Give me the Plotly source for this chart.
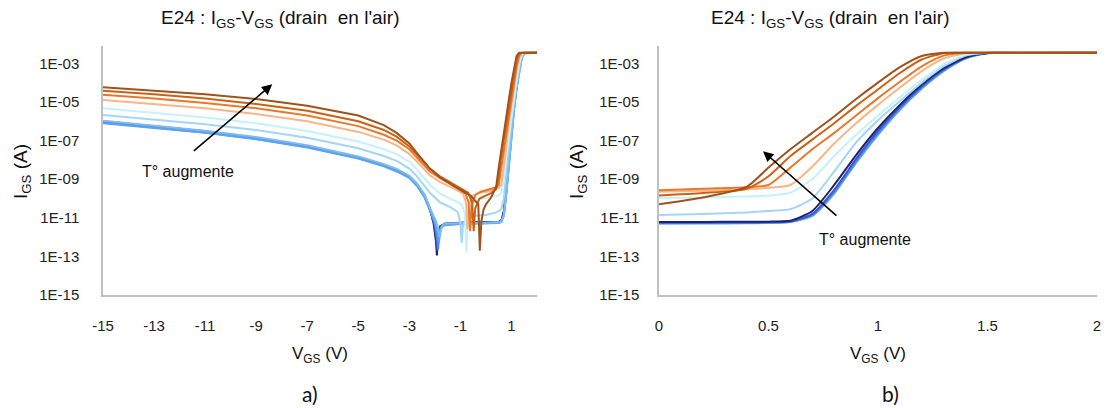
import plotly.graph_objects as go

# ---------------- data (log10 of I_GS in A) ----------------
# Right panel (b): common V_GS grid
VR = [0, 0.2, 0.4, 0.5, 0.6, 0.7, 0.8, 0.9, 1.0, 1.1, 1.2, 1.3, 1.4, 1.5, 2.0]
R1 = [-11.22, -11.22, -11.2, -11.2, -11.15, -10.65, -9.3, -7.75, -6.35, -5.15, -4.1, -3.25, -2.68, -2.46, -2.45]
R2 = [-11.25, -11.24, -11.23, -11.22, -11.18, -10.8, -9.55, -7.95, -6.5, -5.25, -4.18, -3.3, -2.7, -2.46, -2.45]
R3 = [-11.28, -11.27, -11.26, -11.25, -11.2, -10.85, -9.65, -8.05, -6.6, -5.33, -4.25, -3.35, -2.72, -2.47, -2.45]
R4 = [-11.3, -11.3, -11.28, -11.27, -11.22, -10.9, -9.75, -8.15, -6.7, -5.4, -4.3, -3.4, -2.75, -2.48, -2.45]
R5 = [-11.26, -11.25, -11.23, -11.22, -11.19, -10.88, -9.7, -8.1, -6.65, -5.36, -4.27, -3.37, -2.73, -2.47, -2.45]
R6 = [-10.86, -10.8, -10.72, -10.65, -10.55, -10.0, -8.6, -7.1, -5.95, -4.95, -4.0, -3.15, -2.6, -2.45, -2.45]
R7 = [-9.98, -9.95, -9.9, -9.85, -9.7, -9.0, -7.8, -6.7, -5.7, -4.75, -3.85, -3.05, -2.55, -2.45, -2.45]
R8 = [-9.65, -9.6, -9.52, -9.45, -9.3, -8.35, -7.15, -6.1, -5.15, -4.25, -3.4, -2.75, -2.48, -2.45, -2.45]
R9 = [-9.57, -9.5, -9.42, -9.3, -8.4, -7.45, -6.6, -5.7, -4.8, -3.95, -3.15, -2.6, -2.45, -2.45, -2.45]
R10 = [-9.84, -9.72, -9.5, -8.85, -7.8, -6.95, -6.1, -5.2, -4.35, -3.5, -2.8, -2.47, -2.45, -2.45, -2.45]
R11 = [-10.3, -9.95, -9.4, -8.4, -7.45, -6.6, -5.75, -4.85, -4.0, -3.2, -2.62, -2.45, -2.45, -2.45, -2.45]

# Left panel (a): negative V_GS common grid
VL = [-15, -13, -11, -9, -7, -5, -4, -3.5, -3, -2.7, -2.4, -2.2]
L1 = [-6.0, -6.25, -6.52, -6.85, -7.28, -7.85, -8.25, -8.5, -8.85, -9.25, -9.85, -10.5]
L2 = [-6.03, -6.28, -6.55, -6.88, -7.31, -7.88, -8.28, -8.53, -8.88, -9.3, -9.9, -10.55]
L3 = [-6.06, -6.31, -6.58, -6.9, -7.33, -7.9, -8.3, -8.56, -8.9, -9.33, -9.92, -10.58]
L4 = [-6.1, -6.34, -6.6, -6.93, -7.36, -7.93, -8.33, -8.6, -8.93, -9.35, -9.95, -10.6]
L5 = [-5.97, -6.22, -6.49, -6.82, -7.24, -7.82, -8.22, -8.47, -8.82, -9.22, -9.82, -10.47]
L6 = [-5.67, -5.9, -6.15, -6.45, -6.85, -7.4, -7.8, -8.05, -8.45, -8.85, -9.35, -9.7]
L7 = [-5.33, -5.55, -5.8, -6.1, -6.5, -7.05, -7.45, -7.7, -8.1, -8.5, -9.0, -9.3]
L8 = [-4.9, -5.1, -5.33, -5.62, -6.0, -6.55, -6.95, -7.25, -7.7, -8.1, -8.55, -8.8]
L9 = [-4.63, -4.82, -5.05, -5.33, -5.7, -6.25, -6.7, -7.0, -7.45, -7.9, -8.35, -8.6]
L10 = [-4.42, -4.6, -4.82, -5.1, -5.45, -6.0, -6.45, -6.8, -7.3, -7.75, -8.2, -8.45]
L11 = [-4.24, -4.42, -4.6, -4.85, -5.2, -5.7, -6.2, -6.6, -7.15, -7.65, -8.15, -8.45]

# Left panel: dip region (sign change of I_GS) for each curve
T1_V = [-2.05, -1.96, -1.92, -1.88, -1.8, -1.6, -1.0, -0.4]
T1_L = [-11.3, -12.2, -12.95, -11.8, -11.45, -11.3, -11.25, -11.22]
T2_V = [-2.03, -1.94, -1.9, -1.86, -1.78, -1.6, -1.0, -0.4]
T2_L = [-11.3, -12.1, -12.7, -11.8, -11.45, -11.32, -11.27, -11.25]
T3_V = [-2.0, -1.91, -1.87, -1.83, -1.75, -1.6, -1.0, -0.4]
T3_L = [-11.3, -12.0, -12.6, -11.8, -11.45, -11.35, -11.3, -11.28]
T4_V = [-1.98, -1.88, -1.84, -1.8, -1.72, -1.6, -1.0, -0.4]
T4_L = [-11.3, -11.9, -12.3, -11.7, -11.45, -11.38, -11.32, -11.3]
T5_V = [-1.95, -1.85, -1.8, -1.76, -1.7, -1.6, -1.0, -0.4]
T5_L = [-11.2, -11.7, -12.0, -11.6, -11.4, -11.3, -11.27, -11.26]
T6_V = [-1.8, -1.4, -1.1, -1.0, -0.95, -0.9, -0.75, -0.4]
T6_L = [-10.2, -10.45, -10.7, -11.3, -12.3, -11.4, -11.0, -10.9]
T7_V = [-1.8, -1.3, -0.95, -0.82, -0.76, -0.7, -0.55, -0.3]
T7_L = [-9.75, -10.05, -10.3, -10.8, -12.8, -10.9, -10.3, -10.05]
T8_V = [-1.8, -1.3, -0.9, -0.78, -0.72, -0.66, -0.5, -0.25]
T8_L = [-9.15, -9.45, -9.75, -10.2, -11.6, -10.3, -9.85, -9.7]
T9_V = [-1.8, -1.2, -0.8, -0.68, -0.62, -0.56, -0.4, -0.2]
T9_L = [-8.95, -9.4, -9.75, -10.2, -11.7, -10.3, -9.8, -9.65]
T10_V = [-1.8, -1.2, -0.7, -0.54, -0.48, -0.42, -0.25, -0.1]
T10_L = [-8.85, -9.3, -9.7, -10.2, -11.7, -10.5, -10.0, -9.9]
T11_V = [-1.8, -1.2, -0.6, -0.3, -0.24, -0.18, -0.1, -0.05]
T11_L = [-8.9, -9.4, -9.85, -10.3, -12.7, -11.2, -10.6, -10.4]

COLORS = ["#1c2470", "#3f56cf", "#4b86e6", "#5fa2ef", "#7bbcf3", "#a3d6f6",
          "#c5f1fb", "#f6b688", "#e9782a", "#cc6115", "#a0521b"]

XT_A = [-15, -13, -11, -9, -7, -5, -3, -1, 1]
XT_A_TXT = ["-15", "-13", "-11", "-9", "-7", "-5", "-3", "-1", "1"]
XT_B = [0, 0.5, 1, 1.5, 2]
XT_B_TXT = ["0", "0.5", "1", "1.5", "2"]
YT_EXP = [-15, -13, -11, -9, -7, -5, -3]
YT_TXT = ["1E-15", "1E-13", "1E-11", "1E-09", "1E-07", "1E-05", "1E-03"]

TITLE = "E24 : I<sub>GS</sub>-V<sub>GS</sub> (drain  en l'air)"
XLAB = "V<sub>GS</sub> (V)"
YLAB = "I<sub>GS</sub> (A)"
NOTE = "T° augmente"

RIGHT = [R1, R2, R3, R4, R5, R6, R7, R8, R9, R10, R11]
LEFT = [L1, L2, L3, L4, L5, L6, L7, L8, L9, L10, L11]
TAIL_V = [T1_V, T2_V, T3_V, T4_V, T5_V, T6_V, T7_V, T8_V, T9_V, T10_V, T11_V]
TAIL_L = [T1_L, T2_L, T3_L, T4_L, T5_L, T6_L, T7_L, T8_L, T9_L, T10_L, T11_L]

# ---------------- figure ----------------
W, H = 1108, 408
fig = go.Figure()
for i in range(11):
    xs = VL + TAIL_V[i] + VR
    ys = [10 ** v for v in LEFT[i] + TAIL_L[i] + RIGHT[i]]
    fig.add_trace(go.Scatter(x=xs, y=ys, mode="lines", xaxis="x", yaxis="y",
                             line=dict(color=COLORS[i], width=2), showlegend=False,
                             hoverinfo="skip"))
for i in [4, 3, 2, 1, 0, 5, 6, 7, 8, 9, 10]:
    fig.add_trace(go.Scatter(x=VR, y=[10 ** v for v in RIGHT[i]], mode="lines",
                             xaxis="x2", yaxis="y2",
                             line=dict(color=COLORS[i], width=2, shape="spline", smoothing=0.6),
                             showlegend=False, hoverinfo="skip"))

def px(x):
    return x / W

def py(y):
    return 1 - y / H

tickfont = dict(family="Liberation Sans, Arial", size=15, color="#222")
axis_common = dict(showgrid=False, zeroline=False, showline=True, linecolor="#c0c0c0",
                   linewidth=1.5, ticks="outside", tickcolor="rgba(0,0,0,0)",
                   tickfont=tickfont, automargin=False)
yvals = [10 ** e for e in YT_EXP]
ydom = [py(295), py(46)]

fig.update_layout(
    width=W, height=H, margin=dict(l=0, r=0, t=0, b=0, autoexpand=False),
    paper_bgcolor="white", plot_bgcolor="white",
    xaxis=dict(domain=[px(103), px(537)], range=[-15, 2], tickvals=XT_A,
               ticktext=XT_A_TXT, ticklen=16, anchor="y", **axis_common),
    yaxis=dict(domain=ydom, type="log", range=[-15, -2.1], tickvals=yvals,
               ticktext=YT_TXT, ticklen=19, anchor="x", **axis_common),
    xaxis2=dict(domain=[px(659), px(1097)], range=[0, 2], tickvals=XT_B,
                ticktext=XT_B_TXT, ticklen=16, anchor="y2", **axis_common),
    yaxis2=dict(domain=ydom, type="log", range=[-15, -2.1], tickvals=yvals,
                ticktext=YT_TXT, ticklen=15, anchor="x2", **axis_common),
)

txtfont = dict(family="Liberation Sans, Arial", color="#111")
ann = [
    dict(text=TITLE, x=px(280), y=py(19), font=dict(size=19, **txtfont)),
    dict(text=TITLE, x=px(830), y=py(19), font=dict(size=19, **txtfont)),
    dict(text=XLAB, x=px(320), y=py(355), font=dict(size=17, **txtfont)),
    dict(text=XLAB, x=px(878), y=py(355), font=dict(size=17, **txtfont)),
    dict(text=YLAB, x=px(22), y=py(172), textangle=-90, font=dict(size=19, **txtfont)),
    dict(text=YLAB, x=px(578), y=py(172), textangle=-90, font=dict(size=19, **txtfont)),
    dict(text="a)", x=px(310), y=py(393), font=dict(size=21, family="Lato, Open Sans", color="#111")),
    dict(text="b)", x=px(890), y=py(393), font=dict(size=21, family="Lato, Open Sans", color="#111")),
]
for a in ann:
    a.update(xref="paper", yref="paper", showarrow=False, xanchor="center", yanchor="middle")
    fig.add_annotation(**a)

# arrows and notes
fig.add_annotation(x=-8.37, y=-4.08, ax=-11.5, ay=-7.6, xref="x", yref="y", axref="x", ayref="y",
                   showarrow=True, arrowhead=2, arrowsize=1.3, arrowwidth=1.6, arrowcolor="black", text="")
fig.add_annotation(x=-11.67, y=-8.6, xref="x", yref="y", text=NOTE, showarrow=False,
                   font=dict(size=16, **txtfont))
fig.add_annotation(x=0.475, y=-7.55, ax=0.817, ay=-10.96, xref="x2", yref="y2", axref="x2", ayref="y2",
                   showarrow=True, arrowhead=2, arrowsize=1.3, arrowwidth=1.6, arrowcolor="black", text="")
fig.add_annotation(x=0.94, y=-12.15, xref="x2", yref="y2", text=NOTE, showarrow=False,
                   font=dict(size=16, **txtfont))

fig.write_html("out.html", config={"displayModeBar": False},
               post_script="document.body.style.margin='0';document.body.style.overflow='hidden';")
